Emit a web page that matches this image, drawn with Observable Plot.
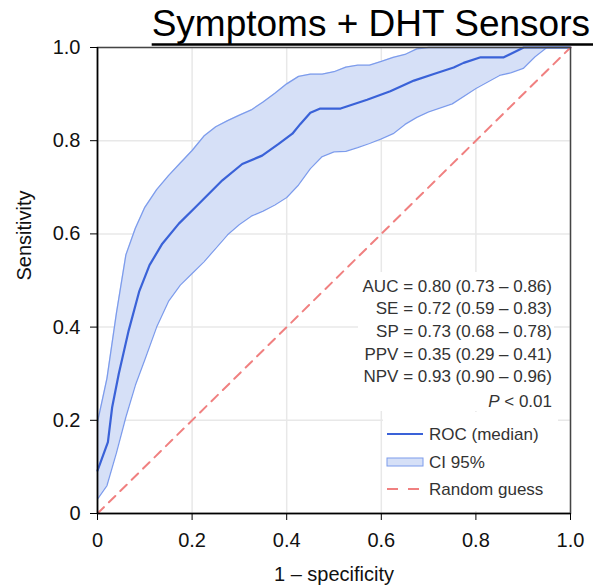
<!DOCTYPE html>
<html><head><meta charset="utf-8">
<script src="https://cdn.jsdelivr.net/npm/d3@7"></script>
<script src="https://cdn.jsdelivr.net/npm/@observablehq/plot@0.6"></script>
<style>body{margin:0;background:#fff}</style>
</head><body><div id="chart"></div>
<script>
const title = "Symptoms + DHT Sensors";
const xLabel = "1 – specificity";
const yLabel = "Sensitivity";
const ticks = [0, 0.2, 0.4, 0.6, 0.8, 1.0];
const tickLabels = ["0", "0.2", "0.4", "0.6", "0.8", "1.0"];

// ROC median curve
const medX = [0, 0.022, 0.031, 0.045, 0.066, 0.088, 0.110, 0.137, 0.172, 0.207, 0.264, 0.306, 0.348, 0.383, 0.412, 0.429, 0.450, 0.471, 0.514, 0.570, 0.619, 0.669, 0.711, 0.753, 0.774, 0.810, 0.859, 0.901, 1.0];
const medY = [0.092, 0.153, 0.228, 0.300, 0.393, 0.476, 0.533, 0.579, 0.622, 0.657, 0.715, 0.750, 0.768, 0.793, 0.815, 0.836, 0.860, 0.869, 0.869, 0.888, 0.906, 0.929, 0.943, 0.957, 0.967, 0.979, 0.979, 1.0, 1.0];

// CI 95% band
const bandX    = [0, 0.02, 0.04, 0.06, 0.08, 0.10, 0.125, 0.15, 0.175, 0.20, 0.225, 0.25, 0.275, 0.30, 0.325, 0.35, 0.375, 0.40, 0.425, 0.45, 0.475, 0.50, 0.525, 0.55, 0.575, 0.60, 0.625, 0.65, 0.675, 0.70, 0.75, 0.80, 0.85, 0.875, 0.90, 0.925, 0.95, 1.0];
const bandLow  = [0.031, 0.060, 0.130, 0.207, 0.275, 0.330, 0.400, 0.455, 0.490, 0.515, 0.540, 0.569, 0.598, 0.620, 0.638, 0.649, 0.662, 0.678, 0.705, 0.740, 0.766, 0.776, 0.777, 0.785, 0.794, 0.804, 0.815, 0.835, 0.850, 0.862, 0.879, 0.912, 0.940, 0.946, 0.955, 0.980, 1.0, 1.0];
const bandHigh = [0.196, 0.290, 0.430, 0.555, 0.612, 0.657, 0.695, 0.725, 0.752, 0.779, 0.810, 0.830, 0.843, 0.855, 0.866, 0.883, 0.902, 0.922, 0.938, 0.943, 0.943, 0.948, 0.958, 0.962, 0.962, 0.970, 0.979, 0.985, 0.997, 1.0, 1.0, 1.0, 1.0, 1.0, 1.0, 1.0, 1.0, 1.0];

// Random guess diagonal
const guessX = [0, 1];
const guessY = [0, 1];

const statLines = ["AUC = 0.80 (0.73 – 0.86)", "SE = 0.72 (0.59 – 0.83)", "SP = 0.73 (0.68 – 0.78)", "PPV = 0.35 (0.29 – 0.41)", "NPV = 0.93 (0.90 – 0.96)"];
const pItalic = "P";
const pRest = " < 0.01";
const legendLabels = ["ROC (median)", "CI 95%", "Random guess"];

const median = medX.map((x, i) => ({x, y: medY[i]}));
const band = bandX.map((x, i) => ({x, lo: bandLow[i], hi: bandHigh[i]}));
const guess = guessX.map((x, i) => ({x, y: guessY[i]}));

const C_MED = "#3a62d8", C_EDGE = "#7d9cec", C_FILL = "#d6e0f7", C_GUESS = "#f08080";
const FONT = "'Liberation Sans', Arial, Helvetica, sans-serif";
const fmt = d => tickLabels[ticks.indexOf(d)];

const plot = Plot.plot({
  width: 593, height: 588,
  marginTop: 47, marginRight: 23, marginBottom: 75, marginLeft: 97,
  style: {fontFamily: FONT, color: "#111", background: "#fff", overflow: "visible"},
  x: {domain: [0, 1]},
  y: {domain: [0, 1]},
  marks: [
    Plot.gridX(ticks, {stroke: "#e8e8e8", strokeOpacity: 1, strokeWidth: 1.5}),
    Plot.gridY(ticks, {stroke: "#e8e8e8", strokeOpacity: 1, strokeWidth: 1.5}),
    Plot.areaY(band, {x: "x", y1: "lo", y2: "hi", fill: C_FILL, fillOpacity: 1}),
    Plot.line(band, {x: "x", y: "lo", stroke: C_EDGE, strokeWidth: 1.3}),
    Plot.line(band, {x: "x", y: "hi", stroke: C_EDGE, strokeWidth: 1.3}),
    Plot.line(median, {x: "x", y: "y", stroke: C_MED, strokeWidth: 2.2}),
    Plot.line(guess, {x: "x", y: "y", stroke: C_GUESS, strokeWidth: 2, strokeDasharray: "9,7"}),
    Plot.frame({stroke: "#444", strokeWidth: 1.5}),
    Plot.ruleX([0], {stroke: "#000", strokeWidth: 1.5}),
    Plot.ruleY([0], {stroke: "#000", strokeWidth: 1.5}),
    Plot.axisX({ticks, tickFormat: fmt, tickSize: 7, tickPadding: 12, fontSize: 20, label: null, stroke: "#000"}),
    Plot.axisY({ticks, tickFormat: fmt, tickSize: 7, tickPadding: 10, fontSize: 20, label: null, stroke: "#000"}),
    Plot.text([xLabel], {text: d => d, frameAnchor: "bottom", dy: 67, fontSize: 20, fill: "#111"}),
    Plot.text([yLabel], {text: d => d, frameAnchor: "left", dx: -73, rotate: -90, fontSize: 20, fill: "#111"})
  ]
});

document.getElementById("chart").appendChild(plot);
const svg = d3.select(plot);

// Title with underline
const t = svg.append("text")
  .attr("x", 590).attr("y", 36)
  .attr("text-anchor", "end")
  .attr("font-size", 37)
  .attr("font-family", FONT)
  .attr("fill", "#000")
  .text(title);
const bb = t.node().getBBox();
svg.append("line")
  .attr("x1", bb.x).attr("x2", 593)
  .attr("y1", 44.5).attr("y2", 44.5)
  .attr("stroke", "#000").attr("stroke-width", 2.5);

// White backgrounds behind annotation + legend (hide grid)
svg.append("rect").attr("x", 358).attr("y", 272).attr("width", 196).attr("height", 139).attr("fill", "#fff");
svg.append("rect").attr("x", 383).attr("y", 412).attr("width", 175).attr("height", 99).attr("fill", "#fff");

// Stats block
const g = svg.append("g").attr("font-family", FONT).attr("font-size", 17).attr("fill", "#333").attr("text-anchor", "end");
statLines.forEach((s, i) => {
  g.append("text").attr("x", 552).attr("y", 291.5 + i * 22.7).text(s);
});
const pt = g.append("text").attr("x", 552).attr("y", 406.5);
pt.append("tspan").attr("font-style", "italic").text(pItalic);
pt.append("tspan").text(pRest);

// Legend
const lg = svg.append("g").attr("font-family", FONT).attr("font-size", 17).attr("fill", "#333").attr("text-anchor", "start");
lg.append("line").attr("x1", 387).attr("x2", 423).attr("y1", 434).attr("y2", 434).attr("stroke", C_MED).attr("stroke-width", 2.2);
lg.append("text").attr("x", 429).attr("y", 440).text(legendLabels[0]);
lg.append("rect").attr("x", 387).attr("y", 458).attr("width", 36).attr("height", 8).attr("fill", C_FILL).attr("stroke", C_EDGE).attr("stroke-width", 1);
lg.append("text").attr("x", 429).attr("y", 468).text(legendLabels[1]);
lg.append("line").attr("x1", 387).attr("x2", 423).attr("y1", 489).attr("y2", 489).attr("stroke", C_GUESS).attr("stroke-width", 2).attr("stroke-dasharray", "11,10");
lg.append("text").attr("x", 429).attr("y", 495).text(legendLabels[2]);
</script>
</body></html>
